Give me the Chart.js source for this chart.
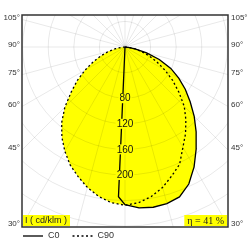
<!DOCTYPE html>
<html lang="en">
<head>
<meta charset="UTF-8" />
<title>Luminous intensity distribution</title>
<script src="https://cdn.jsdelivr.net/npm/chart.js@4.4.0/dist/chart.umd.min.js"></script>
<style>
  html, body { margin: 0; padding: 0; background: #fff; }
  #wrap { width: 250px; height: 250px; }
</style>
</head>
<body>
<div id="wrap"><canvas id="myChart"></canvas></div>
<script>
// intensity in cd/klm, angle from nadir in degrees (negative = left half)
const c0Angles = [-5, -2.5, 0, 5, 10, 15, 20, 25, 30, 35, 40, 45, 50, 55, 60, 65, 70, 75, 80, 85, 90];
const c0Values = [0, 234, 246, 252, 254, 253, 249, 236, 216, 194, 173, 153, 133, 115, 97, 79, 57, 35, 16, 5, 0];

const c90Angles = [-90, -85, -80, -75, -70, -65, -60, -55, -50, -45, -40, -35, -30, -25, -20, -15, -10, -5,
                   0, 5, 10, 15, 20, 25, 30, 35, 40, 45, 50, 55, 60, 65, 70, 75, 80, 85, 90];
const c90Values = [0, 6, 15, 27, 40, 55, 72, 91, 110, 133, 154, 172, 188, 203, 215, 227, 237, 244,
                   247, 244, 237, 227, 214, 202, 181, 165, 148, 131, 110, 91, 72, 55, 40, 27, 15, 6, 0];

const seriesLabels = ['C0', 'C90'];
const angleTicks = [30, 45, 60, 75, 90, 105];
const intensityTicks = [80, 120, 160, 200];
const gridStep = 40;
const unitLabel = 'I ( cd/klm )';
const efficiencyLabel = 'η = 41 %';

const YELLOW = '#ffff00';

function toXY(angles, values) {
  return angles.map((a, i) => {
    const rad = a * Math.PI / 180;
    return { x: values[i] * Math.sin(rad), y: -values[i] * Math.cos(rad) };
  });
}

function origin(chart) {
  const { x, y } = chart.scales;
  const ox = x.getPixelForValue(0);
  const oy = y.getPixelForValue(0);
  return { ox, oy, k: x.getPixelForValue(1) - ox };
}

const polarFrame = {
  id: 'polarFrame',
  // grid goes over the yellow fill but under the curves
  beforeDatasetsDraw(chart) {
    const { ctx, chartArea: area } = chart;
    const { ox, oy, k } = origin(chart);
    ctx.save();
    ctx.beginPath();
    ctx.rect(area.left, area.top, area.width, area.height);
    ctx.clip();
    ctx.strokeStyle = 'rgba(0,0,0,0.09)';
    ctx.lineWidth = 1;
    for (let r = gridStep; r * k < 400; r += gridStep) {
      ctx.beginPath();
      ctx.arc(ox, oy, r * k, 0, Math.PI * 2);
      ctx.stroke();
    }
    for (let a = 0; a < 360; a += 15) {
      const rad = a * Math.PI / 180;
      ctx.beginPath();
      ctx.moveTo(ox, oy);
      ctx.lineTo(ox + 500 * Math.sin(rad), oy + 500 * Math.cos(rad));
      ctx.stroke();
    }
    ctx.restore();
  },
  afterDatasetsDraw(chart) {
    const { ctx } = chart;
    const { ox, oy, k } = origin(chart);
    ctx.save();
    ctx.font = '10px "Liberation Sans", Arial, sans-serif';
    ctx.textAlign = 'center';
    ctx.textBaseline = 'middle';
    intensityTicks.forEach(v => {
      const y = oy + v * k;
      const w = ctx.measureText(String(v)).width;
      ctx.fillStyle = YELLOW;
      ctx.fillRect(ox - w / 2 - 1, y - 5, w + 2, 10);
      ctx.fillStyle = '#111';
      ctx.fillText(String(v), ox, y + 0.5);
    });
    ctx.restore();
  },
  afterDraw(chart) {
    const { ctx, chartArea: area } = chart;
    const { ox, oy } = origin(chart);
    ctx.save();

    // frame
    ctx.strokeStyle = '#333';
    ctx.lineWidth = 1.5;
    ctx.strokeRect(area.left, area.top, area.width, area.height);

    // angle labels where the radial lines leave the frame
    ctx.font = '8px "Liberation Sans", Arial, sans-serif';
    ctx.fillStyle = '#333';
    ctx.textBaseline = 'middle';
    angleTicks.forEach(a => {
      const rad = a * Math.PI / 180;
      const yl = oy + (ox - area.left) / Math.tan(rad);
      const yr = oy + (area.right - ox) / Math.tan(rad);
      ctx.textAlign = 'right';
      ctx.fillText(a + '°', area.left - 2, yl - 2);
      ctx.textAlign = 'left';
      ctx.fillText(a + '°', area.right + 3, yr - 2);
    });

    // unit box, bottom left
    ctx.font = '9px "Liberation Sans", Arial, sans-serif';
    let w = ctx.measureText(unitLabel).width;
    ctx.fillStyle = YELLOW;
    ctx.fillRect(area.left + 1, area.bottom - 12, w + 5, 11);
    ctx.fillStyle = '#222';
    ctx.textAlign = 'left';
    ctx.fillText(unitLabel, area.left + 3, area.bottom - 6);

    // efficiency box, bottom right
    ctx.font = '10px "Liberation Serif", "Times New Roman", serif';
    w = ctx.measureText(efficiencyLabel).width;
    ctx.fillStyle = YELLOW;
    ctx.fillRect(area.right - w - 7, area.bottom - 12, w + 6, 11);
    ctx.fillStyle = '#222';
    ctx.fillText(efficiencyLabel, area.right - w - 4, area.bottom - 6);

    // legend under the frame
    ctx.font = '9px "Liberation Sans", Arial, sans-serif';
    let x = area.left + 1;
    const ly = area.bottom + 9;
    chart.data.datasets.forEach(ds => {
      ctx.strokeStyle = '#000';
      ctx.lineWidth = 1.3;
      ctx.setLineDash(ds.borderDash || []);
      ctx.beginPath();
      ctx.moveTo(x, ly);
      ctx.lineTo(x + 20, ly);
      ctx.stroke();
      ctx.setLineDash([]);
      ctx.fillStyle = '#333';
      ctx.fillText(ds.label, x + 25, ly);
      x += 25 + ctx.measureText(ds.label).width + 13;
    });
    ctx.restore();
  }
};

const ctx = document.getElementById('myChart').getContext('2d');
new Chart(ctx, {
  type: 'line',
  data: {
    datasets: [
      {
        label: seriesLabels[0],
        data: toXY(c0Angles, c0Values),
        borderColor: '#000',
        borderWidth: 1.3,
        backgroundColor: YELLOW,
        fill: 'shape',
        pointRadius: 0
      },
      {
        label: seriesLabels[1],
        data: toXY(c90Angles, c90Values),
        borderColor: '#000',
        borderWidth: 1.3,
        borderDash: [2, 2.5],
        backgroundColor: YELLOW,
        fill: 'shape',
        pointRadius: 0
      }
    ]
  },
  options: {
    responsive: true,
    maintainAspectRatio: false,
    animation: false,
    devicePixelRatio: 1,
    layout: { padding: { left: 22, right: 22, top: 15, bottom: 23 } },
    scales: {
      x: { type: 'linear', min: -161, max: 161, display: false },
      y: { type: 'linear', min: -281, max: 50, display: false }
    },
    plugins: {
      legend: { display: false },
      tooltip: { enabled: false },
      filler: { drawTime: 'beforeDatasetsDraw' }
    }
  },
  plugins: [polarFrame]
});
</script>
</body>
</html>
